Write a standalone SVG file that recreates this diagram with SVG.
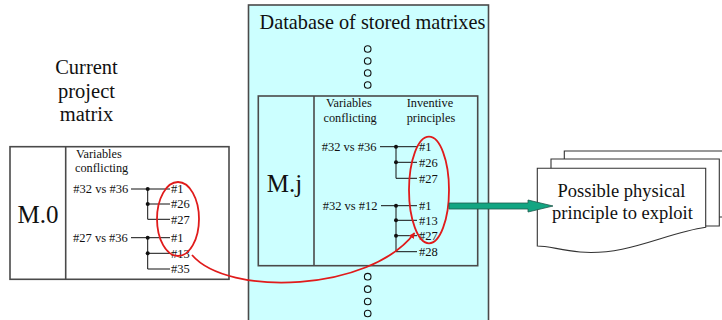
<svg xmlns="http://www.w3.org/2000/svg" width="722" height="320" viewBox="0 0 722 320">
<defs>
<style>
.t{font-family:"Liberation Serif","Times New Roman",serif;fill:#111}
.s{font-size:12.5px}
.h{font-size:12.3px}
.big{font-size:25px}
.box{stroke:#4a4a4a;stroke-width:1.6}
.ln{stroke:#111;stroke-width:1;fill:none}
.dot{fill:#111}
.oc{fill:none;stroke:#111;stroke-width:1.1}
.red{fill:none;stroke:#e01b1b;stroke-width:1.8}
.doc{fill:#fff;stroke:#333;stroke-width:1.1}
</style>
<marker id="rh" viewBox="0 0 10 10" refX="9" refY="5" markerWidth="6" markerHeight="6" markerUnits="userSpaceOnUse" orient="auto"><path d="M0,0 L10,5 L0,10 z" fill="#e01b1b"/></marker>
</defs>

<g id="current-label">
<text class="t" x="86.5" y="74" font-size="20.5" text-anchor="middle">Current</text>
<text class="t" x="86.5" y="97.5" font-size="20.5" text-anchor="middle">project</text>
<text class="t" x="86.5" y="121" font-size="20.5" text-anchor="middle">matrix</text>
</g>

<g id="database">
<rect class="box" x="248.5" y="5" width="240" height="330" fill="#ccffff"/>
<text class="t" x="372.5" y="28.5" font-size="20.3" text-anchor="middle">Database of stored matrixes</text>
<circle class="oc" cx="367.7" cy="49" r="3.3"/>
<circle class="oc" cx="367.7" cy="61" r="3.3"/>
<circle class="oc" cx="367.7" cy="73" r="3.3"/>
<circle class="oc" cx="367.7" cy="85" r="3.3"/>
<circle class="oc" cx="367.7" cy="276.7" r="3.3"/>
<circle class="oc" cx="367.7" cy="289.2" r="3.3"/>
<circle class="oc" cx="367.7" cy="301.5" r="3.3"/>
<circle class="oc" cx="367.7" cy="313.5" r="3.3"/>
</g>

<g id="matrix-m0">
<rect class="box" x="10" y="146.7" width="219" height="132.6" fill="#fff"/>
<line class="box" x1="65.7" y1="146.7" x2="65.7" y2="279.3"/>
<text class="t big" x="38" y="223" text-anchor="middle">M.0</text>
<text class="t h" x="76" y="157.5">Variables</text>
<text class="t h" x="75" y="172">conflicting</text>
<text class="t s" x="73.3" y="193.3">#32 vs #36</text>
<path class="ln" d="M131 189H170M147.7 189V219.3M147.7 204H170M147.7 219.3H170"/>
<circle class="dot" cx="147.7" cy="189" r="2"/>
<circle class="dot" cx="147.7" cy="204" r="2"/>
<text class="t s" x="171" y="193.3">#1</text>
<text class="t s" x="171" y="208.3">#26</text>
<text class="t s" x="171" y="223.6">#27</text>
<text class="t s" x="73" y="242">#27 vs #36</text>
<path class="ln" d="M131 237.7H170M147.7 237.7V269M147.7 253.3H170M147.7 269H170"/>
<circle class="dot" cx="147.7" cy="237.7" r="2"/>
<circle class="dot" cx="147.7" cy="253.3" r="2"/>
<text class="t s" x="171" y="242">#1</text>
<text class="t s" x="171" y="257.6">#13</text>
<text class="t s" x="171" y="273.3">#35</text>
<ellipse class="red" cx="178" cy="219" rx="21" ry="37"/>
</g>

<g id="matrix-mj">
<rect class="box" x="258.3" y="96" width="219.4" height="169.7" fill="#ccffff"/>
<line class="box" x1="314" y1="96" x2="314" y2="265.7"/>
<text class="t big" x="284.5" y="192" text-anchor="middle">M.j</text>
<text class="t h" x="326" y="107">Variables</text>
<text class="t h" x="323.5" y="121.7">conflicting</text>
<text class="t h" x="406.7" y="107">Inventive</text>
<text class="t h" x="406.7" y="121.7">principles</text>
<text class="t s" x="321.7" y="151">#32 vs #36</text>
<path class="ln" d="M380 146.7H417M396 146.7V178.3M396 162.3H417M396 178.3H417"/>
<circle class="dot" cx="396" cy="146.7" r="2"/>
<circle class="dot" cx="396" cy="162.3" r="2"/>
<text class="t s" x="419" y="151">#1</text>
<text class="t s" x="419" y="166.6">#26</text>
<text class="t s" x="419" y="182.6">#27</text>
<text class="t s" x="322.7" y="210">#32 vs #12</text>
<path class="ln" d="M381 205.7H417M396 205.7V251.7M396 220.3H417M396 235.7H417M396 251.7H417"/>
<circle class="dot" cx="396" cy="205.7" r="2"/>
<circle class="dot" cx="396" cy="220.3" r="2"/>
<circle class="dot" cx="396" cy="235.7" r="2"/>
<text class="t s" x="419" y="210">#1</text>
<text class="t s" x="419" y="224.6">#13</text>
<text class="t s" x="419" y="240">#27</text>
<text class="t s" x="419" y="256">#28</text>
<ellipse class="red" cx="429" cy="190" rx="20" ry="53.3"/>
</g>

<g id="documents">
<path class="doc" d="M564.3 151H730V217H564.3Z"/>
<path class="doc" d="M551 159H719.3V226H551Z"/>
<path class="doc" d="M537.3 168.3H705.7V227.3C665 233 628 256 580 252C560 250 548 246 537.3 246Z"/>
<text class="t" x="621.5" y="196.7" font-size="18.5" text-anchor="middle">Possible physical</text>
<text class="t" x="622.5" y="218.5" font-size="18.5" text-anchor="middle">principle to exploit</text>
</g>

<g id="connectors">
<path class="red" d="M192 255C228 297 370 292 414.5 233" marker-end="url(#rh)"/>
<polygon points="449,203 528,203 528,200 553,206 528,212 528,209 449,209" fill="#12a582" stroke="#1f5a4c" stroke-width="0.8"/>
</g>
</svg>
